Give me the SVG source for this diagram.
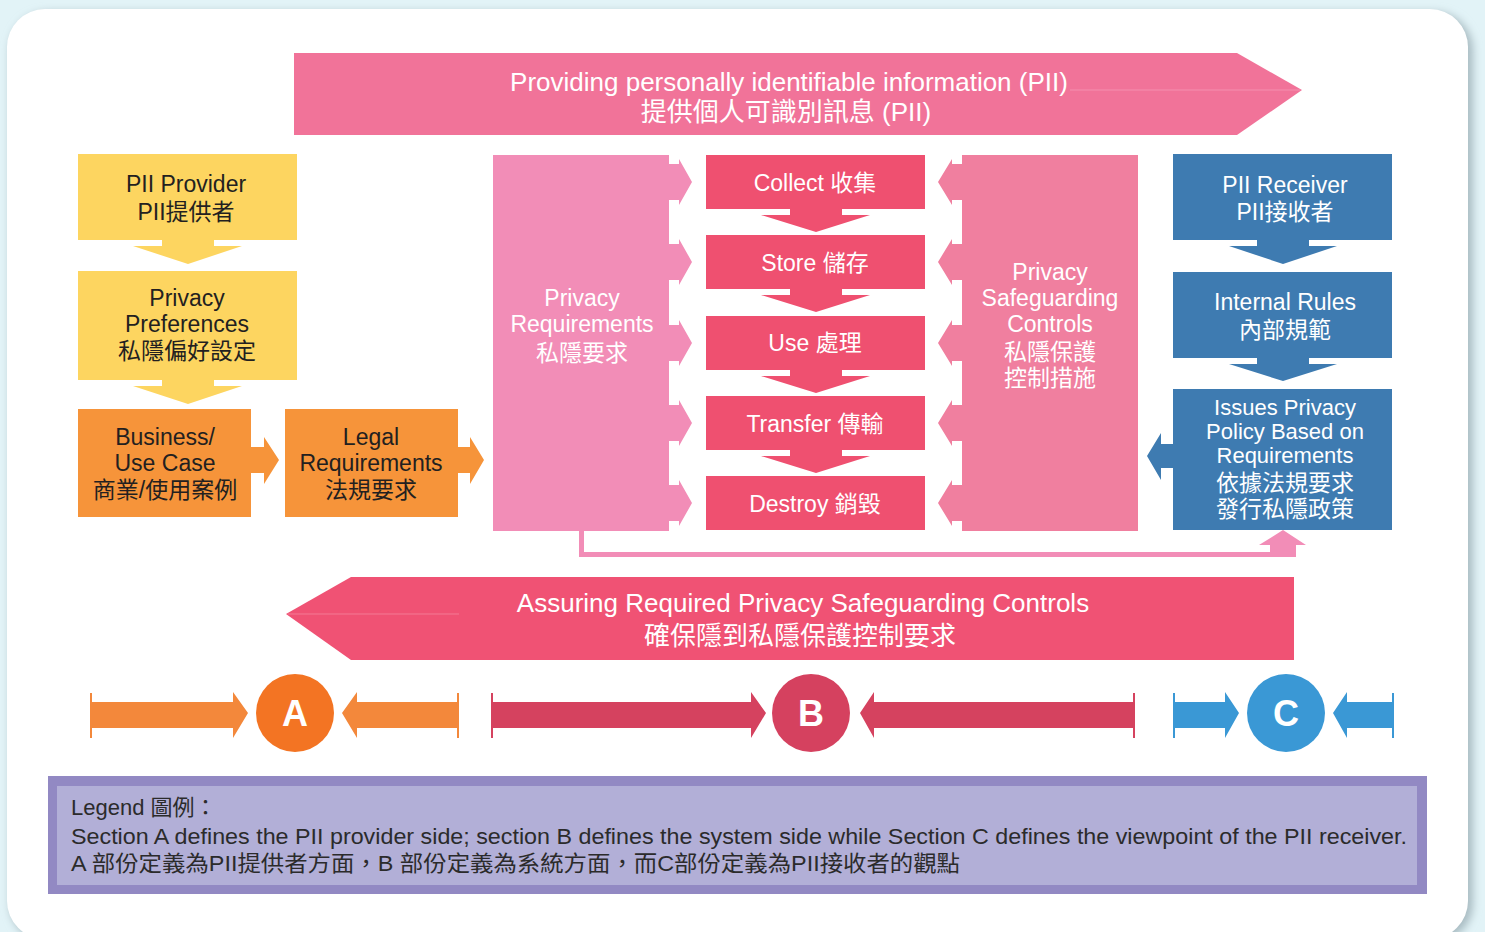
<svg xmlns="http://www.w3.org/2000/svg" width="1485" height="932" viewBox="0 0 1485 932">
<defs>
<style>
.t{font-family:"Liberation Sans","Noto Sans CJK TC",Arial,sans-serif;font-size:23px;text-anchor:middle}
.s22{font-size:22px}
.w{fill:#ffffff}
.d{fill:#231f20}
.big{font-size:26px}
.let{font-size:36px;font-weight:bold;fill:#ffffff}
.lg{font-family:"Liberation Sans","Noto Sans CJK TC",Arial,sans-serif;font-size:22px;fill:#2b2b2b}
.yel{fill:#fdd560}
.org{fill:#f6943a}
.blu{fill:#3e7bb1}
.red{fill:#ef5070}
.prq{fill:#f28db7}
.psg{fill:#f07f9f}
</style>
<filter id="sh" x="-5%" y="-5%" width="110%" height="110%">
<feGaussianBlur stdDeviation="4"/>
</filter>
</defs>
<rect x="0" y="0" width="1485" height="932" fill="#e2f3f7"/>
<rect x="10" y="12" width="1463" height="930" rx="38" fill="#a9bcc2" filter="url(#sh)"/>
<rect x="7" y="9" width="1461" height="930" rx="38" fill="#ffffff"/>

<g id="top-arrow">
<polygon points="294,53 1237,53 1302,90 1237,135 294,135" fill="#f17399"/>
<line x1="1070" y1="90" x2="1300" y2="90" stroke="#f7a3bf" stroke-width="1" opacity="0.6"/>
<text class="t w big" x="789" y="91">Providing personally identifiable information (PII)</text>
<text class="t w big" x="786" y="121">提供個人可識別訊息 (PII)</text>
</g>

<g id="pii-provider">
<rect class="yel" x="78" y="154" width="219" height="86"/>
<text class="t d" x="186" y="192">PII Provider</text>
<text class="t d" x="186" y="220">PII提供者</text>
</g>
<g id="privacy-preferences">
<rect class="yel" x="78" y="271" width="219" height="109"/>
<text class="t d" x="187" y="306">Privacy</text>
<text class="t d" x="187" y="332">Preferences</text>
<text class="t d" x="187" y="359">私隱偏好設定</text>
</g>
<g id="business-use-case">
<rect class="org" x="78" y="409" width="173" height="108"/>
<text class="t d" x="165" y="445">Business/</text>
<text class="t d" x="165" y="471">Use Case</text>
<text class="t d" x="165" y="498">商業/使用案例</text>
</g>
<g id="legal-requirements">
<rect class="org" x="285" y="409" width="173" height="108"/>
<text class="t d" x="371" y="445">Legal</text>
<text class="t d" x="371" y="471">Requirements</text>
<text class="t d" x="371" y="498">法規要求</text>
</g>

<g id="privacy-requirements">
<rect class="prq" x="493" y="155" width="176" height="376"/>
<text class="t w" x="582" y="306">Privacy</text>
<text class="t w" x="582" y="332">Requirements</text>
<text class="t w" x="582" y="361">私隱要求</text>
</g>

<g id="collect">
<rect class="red" x="706" y="155" width="219" height="54"/>
<text class="t w" x="815" y="191">Collect 收集</text>
</g>
<g id="store">
<rect class="red" x="706" y="235" width="219" height="54"/>
<text class="t w" x="815" y="271">Store 儲存</text>
</g>
<g id="use">
<rect class="red" x="706" y="316" width="219" height="54"/>
<text class="t w" x="815" y="351">Use 處理</text>
</g>
<g id="transfer">
<rect class="red" x="706" y="396" width="219" height="54"/>
<text class="t w" x="815" y="432">Transfer 傳輸</text>
</g>
<g id="destroy">
<rect class="red" x="706" y="476" width="219" height="54"/>
<text class="t w" x="815" y="512">Destroy 銷毀</text>
</g>

<g id="privacy-safeguarding-controls">
<rect class="psg" x="962" y="155" width="176" height="376"/>
<text class="t w" x="1050" y="280">Privacy</text>
<text class="t w" x="1050" y="306">Safeguarding</text>
<text class="t w" x="1050" y="332">Controls</text>
<text class="t w" x="1050" y="360">私隱保護</text>
<text class="t w" x="1050" y="386">控制措施</text>
</g>

<g id="pii-receiver">
<rect class="blu" x="1173" y="154" width="219" height="86"/>
<text class="t w" x="1285" y="193">PII Receiver</text>
<text class="t w" x="1285" y="220">PII接收者</text>
</g>
<g id="internal-rules">
<rect class="blu" x="1173" y="272" width="219" height="86"/>
<text class="t w" x="1285" y="310">Internal Rules</text>
<text class="t w" x="1285" y="338">內部規範</text>
</g>
<g id="issues-privacy-policy">
<rect class="blu" x="1173" y="389" width="219" height="141"/>
<text class="t w s22" x="1285" y="415">Issues Privacy</text>
<text class="t w s22" x="1285" y="439">Policy Based on</text>
<text class="t w s22" x="1285" y="463">Requirements</text>
<text class="t w" x="1285" y="491">依據法規要求</text>
<text class="t w" x="1285" y="517">發行私隱政策</text>
</g>

<g id="bottom-arrow">
<polygon points="1294,577 351,577 286,614 351,660 1294,660" fill="#f05274"/>
<line x1="288" y1="614" x2="459" y2="614" stroke="#f58aa2" stroke-width="1" opacity="0.7"/>
<text class="t w big" x="803" y="612">Assuring Required Privacy Safeguarding Controls</text>
<text class="t w big" x="800" y="645">確保隱到私隱保護控制要求</text>
</g>

<g id="connectors">
<polygon class="yel" points="162,240 214,240 214,246 242,246 188,264 133,246 162,246"/>
<polygon class="yel" points="162,380 214,380 214,386 242,386 188,404 133,386 162,386"/>
<polygon class="org" points="251,447 264,447 264,437 279,460 264,484 264,473 251,473"/>
<polygon class="org" points="458,447 470,447 470,437 484,460 470,484 470,473 458,473"/>
<g class="prq">
<polygon points="669,164 679,164 679,159 692,182 679,205 679,200 669,200"/>
<polygon points="669,244 679,244 679,239 692,262 679,285 679,280 669,280"/>
<polygon points="669,325 679,325 679,320 692,343 679,366 679,361 669,361"/>
<polygon points="669,405 679,405 679,400 692,423 679,446 679,441 669,441"/>
<polygon points="669,485 679,485 679,480 692,503 679,526 679,521 669,521"/>
</g>
<g class="psg">
<polygon points="962,164 952,164 952,159 938,182 952,205 952,200 962,200"/>
<polygon points="962,244 952,244 952,239 938,262 952,285 952,280 962,280"/>
<polygon points="962,325 952,325 952,320 938,343 952,366 952,361 962,361"/>
<polygon points="962,405 952,405 952,400 938,423 952,446 952,441 962,441"/>
<polygon points="962,485 952,485 952,480 938,503 952,526 952,521 962,521"/>
</g>
<g class="red">
<polygon points="790,209 842,209 842,215 870,215 816,232 761,215 790,215"/>
<polygon points="790,289 842,289 842,295 870,295 816,312 761,295 790,295"/>
<polygon points="790,370 842,370 842,376 870,376 816,393 761,376 790,376"/>
<polygon points="790,450 842,450 842,456 870,456 816,473 761,456 790,456"/>
</g>
<polygon class="blu" points="1257,240 1309,240 1309,246 1337,246 1283,264 1229,246 1257,246"/>
<polygon class="blu" points="1257,358 1309,358 1309,364 1337,364 1283,381 1229,364 1257,364"/>
<polygon class="blu" points="1173,444 1161,444 1161,433 1147,456 1161,480 1161,468 1173,468"/>
<path d="M581.5,531 V554.5 H1272" fill="none" stroke="#f28db7" stroke-width="5"/>
<polygon class="prq" points="1270,557 1296,557 1296,545 1306,545 1283,530 1259,545 1270,545"/>
</g>

<g id="section-a">
<g fill="#f3883b">
<rect x="90" y="693" width="2" height="45"/>
<polygon points="91,702 233,702 233,692 248,713 233,738 233,728 91,728"/>
<rect x="457" y="693" width="2" height="45"/>
<polygon points="458,702 357,702 357,692 342,713 357,738 357,728 458,728"/>
</g>
<circle cx="295" cy="713" r="39" fill="#f37423"/>
<text class="t let" x="295" y="726">A</text>
</g>
<g id="section-b">
<g fill="#d5425f">
<rect x="491" y="693" width="2" height="45"/>
<polygon points="492,702 751,702 751,692 766,713 751,738 751,728 492,728"/>
<rect x="1133" y="693" width="2" height="45"/>
<polygon points="1134,702 874,702 874,692 860,713 874,738 874,728 1134,728"/>
</g>
<circle cx="811" cy="713" r="39" fill="#d5415f"/>
<text class="t let" x="811" y="726">B</text>
</g>
<g id="section-c">
<g fill="#3a98d5">
<rect x="1173" y="693" width="2" height="45"/>
<polygon points="1174,702 1225,702 1225,692 1239,713 1225,738 1225,728 1174,728"/>
<rect x="1392" y="693" width="2" height="45"/>
<polygon points="1393,702 1347,702 1347,692 1333,713 1347,738 1347,728 1393,728"/>
</g>
<circle cx="1286" cy="713" r="39" fill="#3a98d5"/>
<text class="t let" x="1286" y="726">C</text>
</g>

<g id="legend">
<rect x="48" y="776" width="1379" height="118" fill="#9289c3"/>
<rect x="57" y="786" width="1360" height="99" fill="#b2afd7"/>
<text class="lg" x="71" y="815">Legend 圖例：</text>
<text class="lg" x="71" y="844" textLength="1336" lengthAdjust="spacingAndGlyphs">Section A defines the PII provider side; section B defines the system side while Section C defines the viewpoint of the PII receiver.</text>
<text class="lg" x="71" y="871" textLength="889" lengthAdjust="spacingAndGlyphs">A 部份定義為PII提供者方面，B 部份定義為系統方面，而C部份定義為PII接收者的觀點</text>
</g>
</svg>
